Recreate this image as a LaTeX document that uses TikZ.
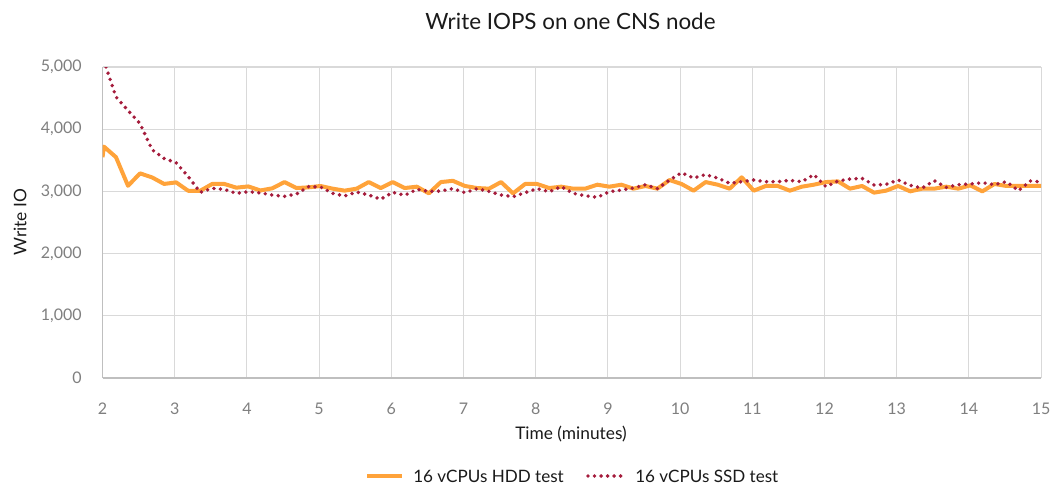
\documentclass[tikz,border=0pt]{standalone}
\usepackage{fontspec}
\setmainfont{Lato}

\definecolor{hddorange}{HTML}{FFA33A}
\definecolor{ssdred}{HTML}{A51C3C}
\definecolor{gridgrey}{HTML}{D9D9D9}
\definecolor{axisgrey}{HTML}{BFBFBF}
\definecolor{ticktext}{HTML}{7F7F7F}
\definecolor{labeltext}{HTML}{1A1A1A}

\tikzset{
  gridline/.style={draw=gridgrey, line width=0.8pt},
  axisline/.style={draw=axisgrey, line width=1.4pt},
  ticklabel/.style={text=ticktext, font=\fontsize{12}{14}\selectfont, inner sep=0pt},
  axistitle/.style={text=labeltext, font=\fontsize{13}{15}\selectfont, inner sep=0pt},
  legendtext/.style={text=labeltext, font=\fontsize{12.8}{15}\selectfont, inner sep=0pt, anchor=west},
  hddline/.style={draw=hddorange, line width=3pt, line join=round},
  ssdline/.style={draw=ssdred, line width=2.9pt, line cap=round, dash pattern=on 0pt off 4.9pt},
}

\begin{document}
\begin{tikzpicture}[x=0.75pt, y=0.75pt]
  % page area in pixel units
  \fill[white] (0,0) rectangle (1057,487);
  \useasboundingbox (0,0) rectangle (1057,487);

  % title
  \node[text=labeltext, font=\fontsize{16.8}{20}\selectfont, inner sep=0pt] (title) at (570.5,466) {Write IOPS on one CNS node};

  % plot area: one unit = one minute (x) and 1,000 IO (y); origin at minute 2
  \begin{scope}[shift={(102.5,109)}, x=54.15pt, y=46.65pt]
    % grid
    \foreach \m in {1,...,13} \draw[gridline] (\m,0) -- (\m,5);
    \foreach \k in {1,...,5} \draw[gridline] (0,\k) -- (13,\k);
    % axes
    \draw[axisline] (0,0) -- (0,5);
    \draw[axisline] (0,0) -- (13,0);

    % y tick labels
    \foreach \k/\lab in {0/0,1/{1,000},2/{2,000},3/{3,000},4/{4,000},5/{5,000}}
      \node[ticklabel, anchor=east] (ylab\k) at (-0.285,\k) {\lab};
    % x tick labels
    \foreach \m in {0,...,13} {
      \pgfmathtruncatemacro{\minute}{\m+2}
      \node[ticklabel] (xlab\m) at (\m,-0.5) {\minute};
    }

    % data series
    \begin{scope}
      \clip (0,-0.1) rectangle (13,5);
      \draw[hddline] (0,3.55)
        \foreach \v [count=\i from 0] in {
          3.72,3.55,3.09,3.29,3.225,3.12,3.145,3.01,3.01,3.12,
          3.12,3.06,3.08,3.015,3.05,3.15,3.054,3.065,3.087,3.044,
          3.012,3.044,3.15,3.054,3.15,3.054,3.076,2.969,3.15,3.17,
          3.087,3.054,3.044,3.15,2.969,3.119,3.119,3.054,3.076,3.044,
          3.044,3.108,3.076,3.108,3.044,3.087,3.044,3.183,3.119,3.012,
          3.15,3.108,3.044,3.226,3.012,3.087,3.087,3.012,3.076,3.108,
          3.15,3.161,3.044,3.087,2.98,3.012,3.087,3.001,3.044,3.044,
          3.076,3.044,3.097,3.001,3.119,3.087,3.087,3.087,3.087}
        { -- ({0.02+\i/6},\v) };
      \draw[ssdline] (0.02,5.1)
        \foreach \v [count=\i from 1] in {
          4.52,4.3,4.09,3.67,3.53,3.46,3.24,2.985,3.05,
          3.033,2.969,2.995,2.975,2.942,2.92,2.958,3.076,3.07,2.969,
          2.926,2.99,2.942,2.875,2.985,2.938,3.033,3.0,3.006,3.044,
          2.98,3.044,3.0,2.942,2.915,2.98,3.044,2.995,3.076,2.969,
          2.93,2.905,2.995,3.022,3.054,3.108,3.044,3.183,3.3,3.215,
          3.27,3.215,3.13,3.156,3.183,3.156,3.156,3.177,3.156,3.27,
          3.076,3.167,3.199,3.21,3.103,3.114,3.183,3.097,3.054,3.172,
          3.065,3.108,3.119,3.14,3.108,3.156,3.012,3.167,3.15}
        { -- ({0.02+\i/6},\v) };
    \end{scope}
  \end{scope}

  % axis titles
  \node[axistitle, rotate=90] (ytitle) at (20,265) {Write IO};
  \node[axistitle] (xtitle) at (571,53) {Time (minutes)};

  % legend
  \coordinate (hddA) at (367,11);
  \coordinate (hddB) at (402,11);
  \draw[hddline] (hddA) -- (hddB);
  \node[legendtext] (hddtext) at (413,11) {16 vCPUs HDD test};
  \coordinate (ssdA) at (588,11);
  \coordinate (ssdB) at (623,11);
  \draw[ssdline] (ssdA) -- (ssdB);
  \node[legendtext] (ssdtext) at (635,11) {16 vCPUs SSD test};
\end{tikzpicture}
\end{document}
